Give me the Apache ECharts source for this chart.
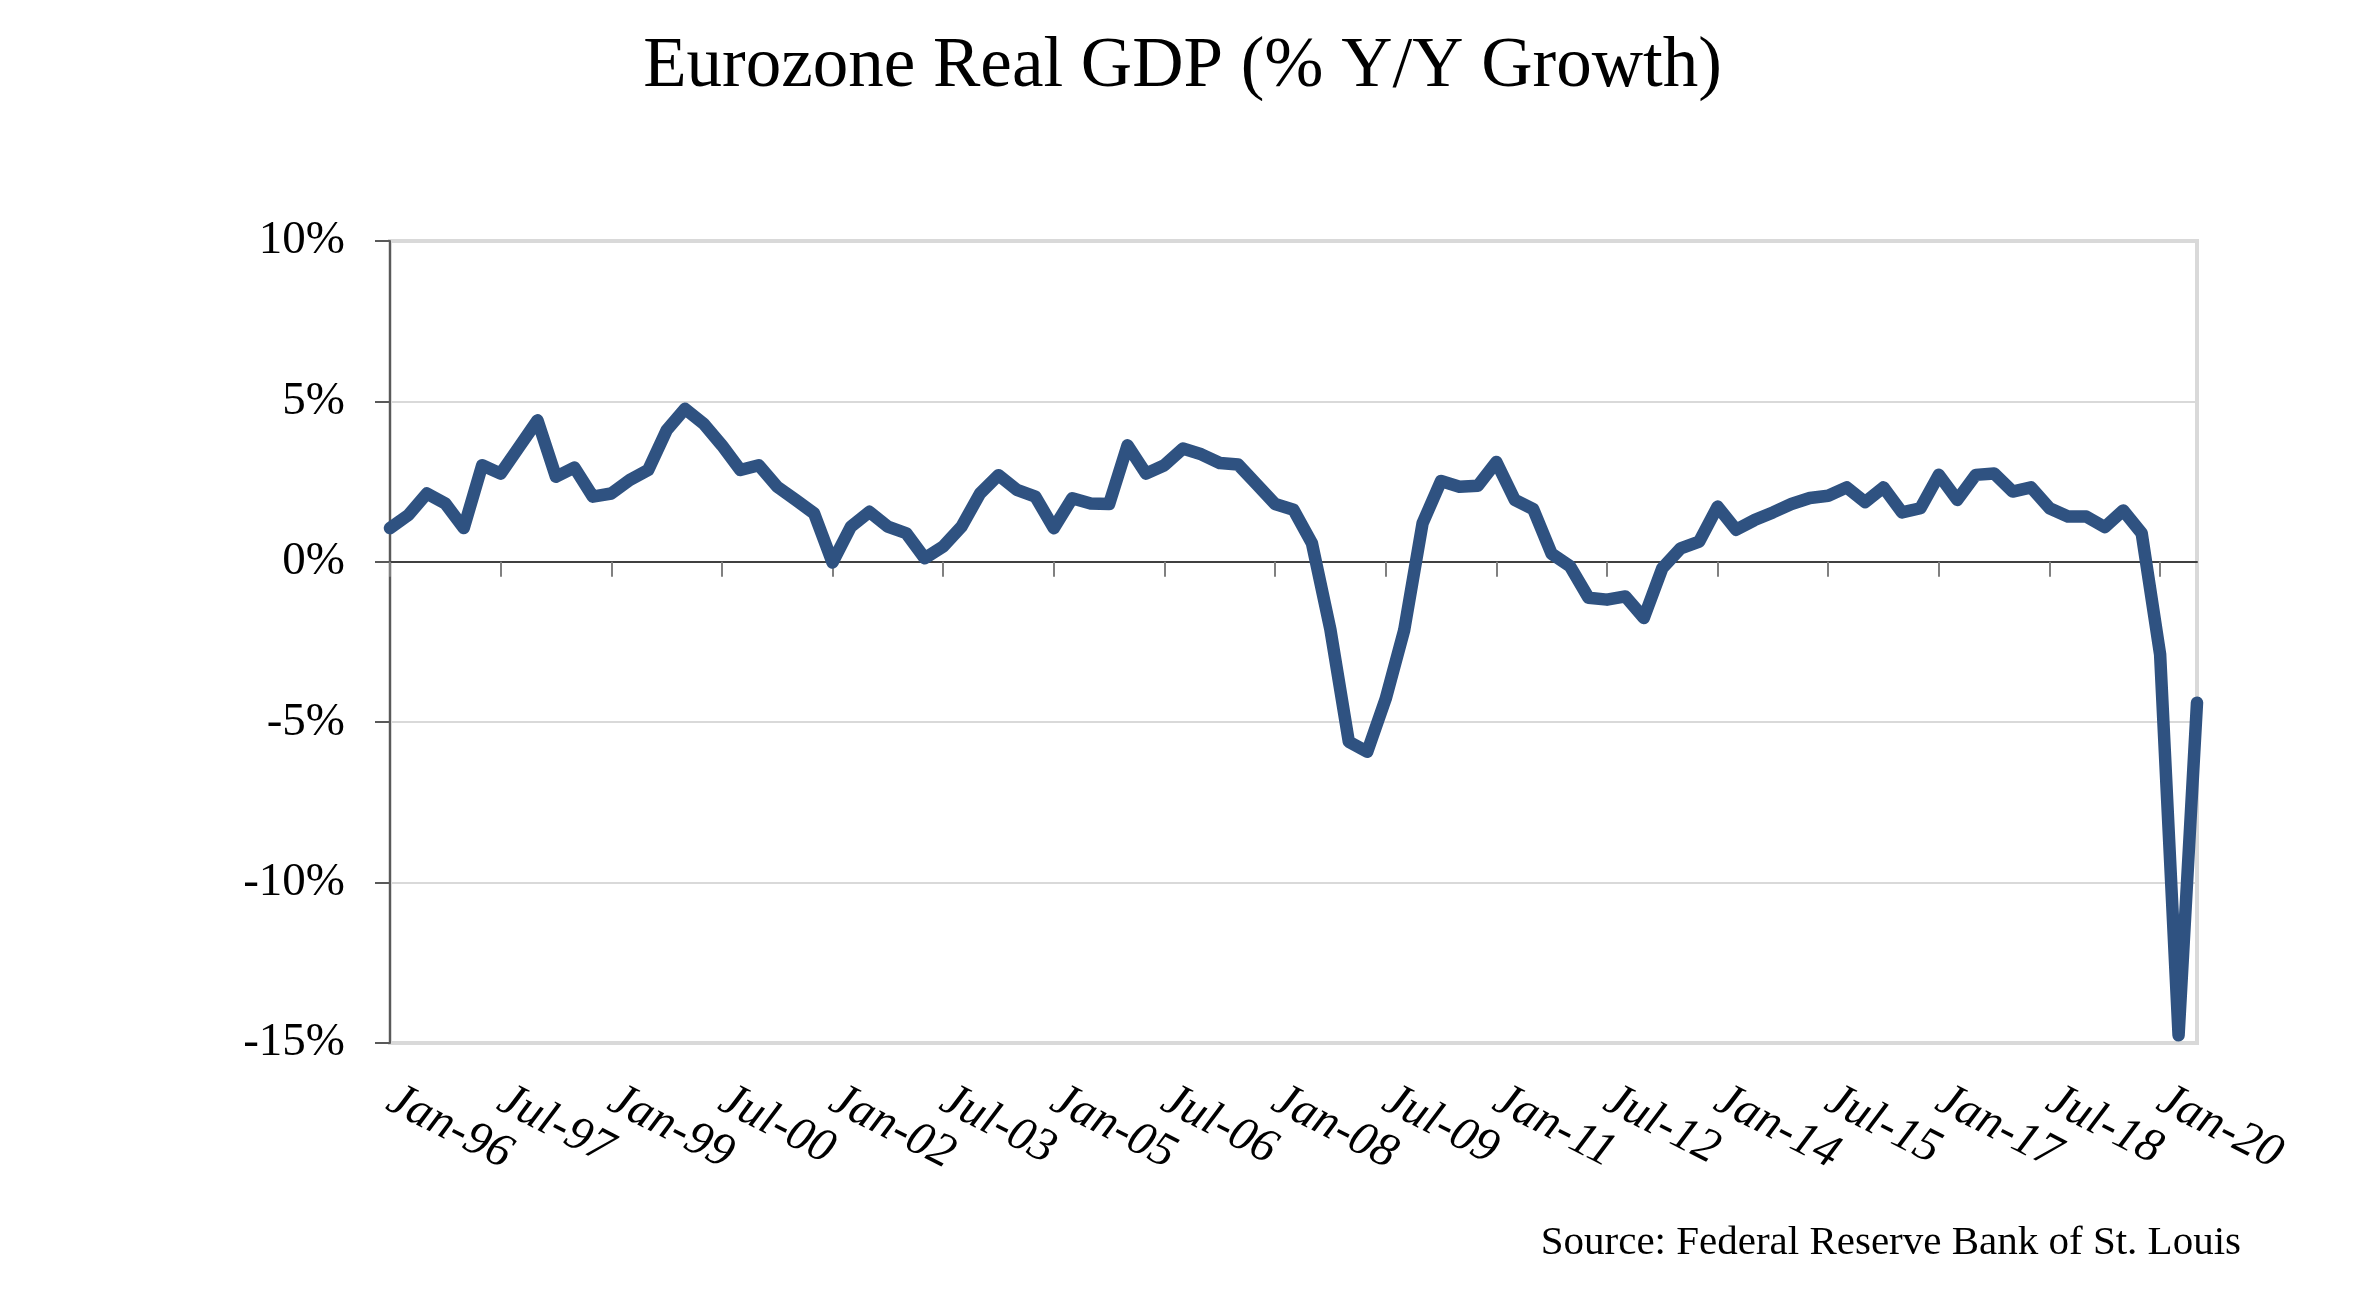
<!DOCTYPE html>
<html>
<head>
<meta charset="utf-8">
<script src="https://cdn.jsdelivr.net/npm/echarts@6/dist/echarts.min.js"></script>
<style>
html,body{margin:0;padding:0;background:#fff;}
#chart{width:2365px;height:1301px;}
</style>
</head>
<body>
<div id="chart"></div>
<script>
// Quarterly categories, Jan-96 .. Jul-20
const years = [96,97,98,99,0,1,2,3,4,5,6,7,8,9,10,11,12,13,14,15,16,17,18,19,20];
const quarterMonths = ['Jan','Apr','Jul','Oct'];
const categories = [];
years.forEach(function (y) {
  quarterMonths.forEach(function (m) {
    categories.push(m + '-' + (y < 10 ? '0' + y : '' + y));
  });
});
categories.length = 99; // last observation: Jul-20

// Eurozone real GDP, % Y/Y growth
const gdpGrowth = [
  1.05, 1.46, 2.13, 1.82, 1.05, 3.01, 2.75, 3.58, 4.41, 2.65,
  2.94, 2.03, 2.13, 2.55, 2.86, 4.10, 4.77, 4.31, 3.63, 2.86,
  3.01, 2.34, 1.93, 1.51, -0.02, 1.10, 1.56, 1.10, 0.89, 0.11,
  0.48, 1.10, 2.13, 2.70, 2.24, 2.03, 1.05, 1.98, 1.82, 1.80,
  3.63, 2.75, 3.01, 3.53, 3.35, 3.08, 3.03, 2.42, 1.80, 1.62,
  0.58, -2.11, -5.61, -5.92, -4.27, -2.14, 1.20, 2.52, 2.34, 2.37,
  3.11, 1.93, 1.64, 0.25, -0.14, -1.12, -1.18, -1.08, -1.75, -0.20,
  0.42, 0.63, 1.72, 1.00, 1.30, 1.54, 1.80, 1.99, 2.06, 2.32,
  1.86, 2.32, 1.54, 1.67, 2.71, 1.93, 2.71, 2.75, 2.19, 2.32,
  1.67, 1.41, 1.41, 1.08, 1.60, 0.89, -2.89, -14.76, -4.39
];

const yTicks = { min: -15, max: 10, step: 5 };
const titleText = 'Eurozone Real GDP (% Y/Y Growth)';
const sourceText = 'Source: Federal Reserve Bank of St. Louis';

const serif = '"Liberation Serif", "DejaVu Serif", serif';

const chart = echarts.init(document.getElementById('chart'));
chart.setOption({
  animation: false,
  backgroundColor: '#ffffff',
  title: {
    text: titleText,
    left: 'center',
    top: 27,
    textStyle: { fontFamily: serif, fontSize: 71, fontWeight: 'normal', color: '#000' }
  },
  grid: {
    left: 390, right: 168, top: 241, bottom: 258,
    show: true, borderColor: '#d9d9d9', borderWidth: 4, backgroundColor: 'transparent'
  },
  xAxis: [
    {
      type: 'category',
      position: 'bottom',
      data: categories,
      boundaryGap: false,
      axisLine: { show: true, onZero: true, lineStyle: { color: '#404040', width: 2 } },
      axisTick: { show: true, interval: 5, length: 15, lineStyle: { color: '#808080', width: 2 } },
      axisLabel: { show: false },
      splitLine: { show: false }
    },
    {
      type: 'category',
      position: 'bottom',
      data: categories,
      boundaryGap: false,
      axisLine: { show: false, onZero: false },
      axisTick: { show: false },
      axisLabel: {
        show: true, interval: 5, rotate: -27, margin: 54,
        fontFamily: serif, fontStyle: 'italic', fontSize: 48, color: '#000'
      },
      splitLine: { show: false }
    }
  ],
  yAxis: {
    type: 'value',
    min: yTicks.min, max: yTicks.max, interval: yTicks.step,
    axisLine: { show: true, lineStyle: { color: '#595959', width: 2 } },
    axisTick: { show: true, length: 15, lineStyle: { color: '#595959', width: 2 } },
    axisLabel: {
      margin: 45, fontFamily: serif, fontSize: 47, color: '#000',
      formatter: '{value}%'
    },
    splitLine: { show: true, lineStyle: { color: '#d9d9d9', width: 2 } }
  },
  series: [{
    type: 'line',
    xAxisIndex: 0,
    data: gdpGrowth,
    showSymbol: false,
    symbol: 'none',
    lineStyle: { color: '#2f5281', width: 12.5, cap: 'round', join: 'round' },
    z: 5
  }],
  graphic: [{
    type: 'text',
    right: 2365 - 2241,
    top: 1223,
    style: { text: sourceText, font: '41px "Liberation Serif", serif', fill: '#000' }
  }]
});
</script>
</body>
</html>
